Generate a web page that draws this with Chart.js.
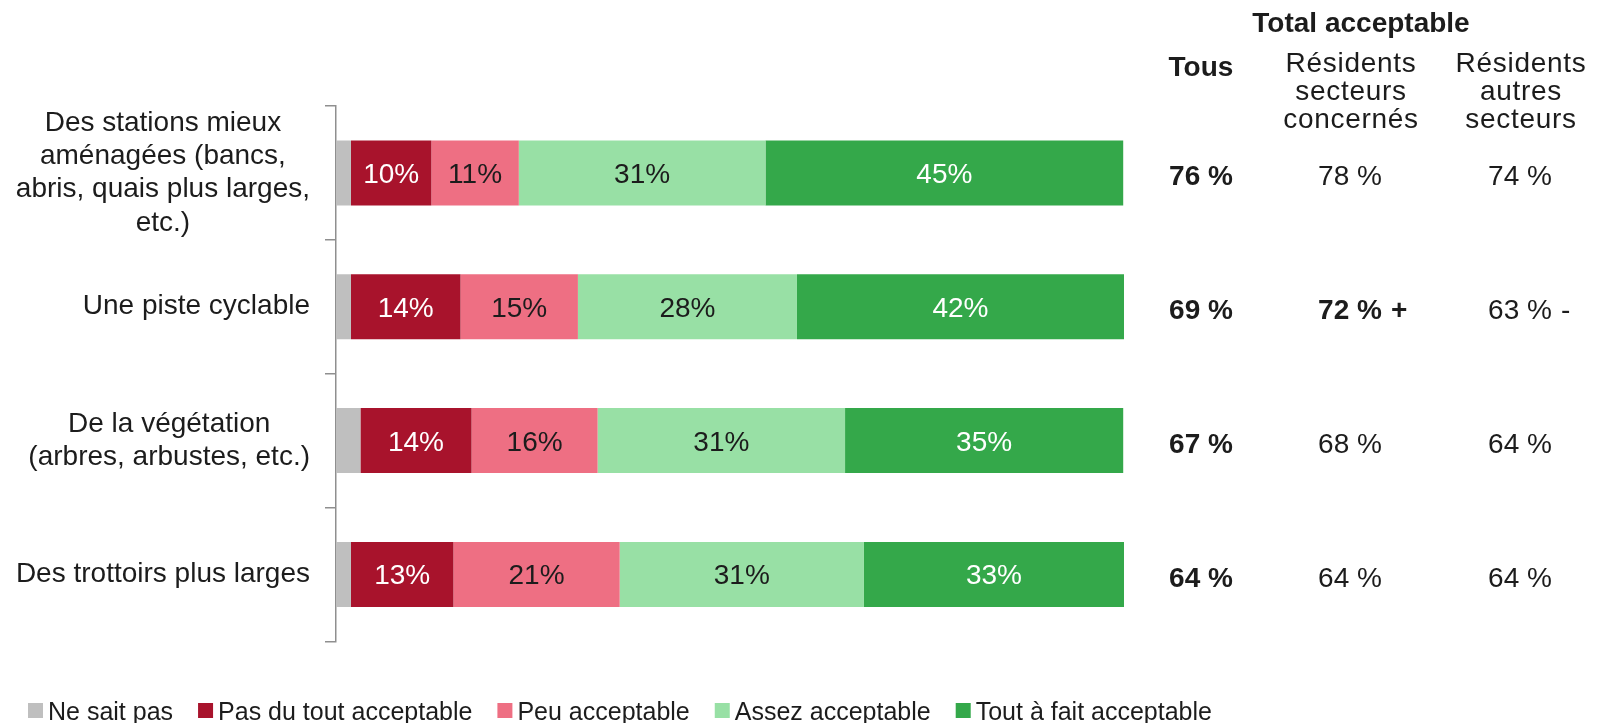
<!DOCTYPE html>
<html><head><meta charset="utf-8">
<script src="https://cdn.jsdelivr.net/npm/chart.js@4.4.1/dist/chart.umd.min.js"></script>
<style>html,body{margin:0;padding:0;background:#fff;} canvas{display:block;}</style>
</head><body>
<canvas id="c" width="1600" height="723"></canvas>
<script>
// ---- data ----
const categories = [
  ['Des stations mieux', 'aménagées (bancs,', 'abris, quais plus larges,', 'etc.)'],
  'Une piste cyclable',
  ['De la végétation', '(arbres, arbustes, etc.)'],
  'Des trottoirs plus larges'
];
const seriesNames = ['Ne sait pas', 'Pas du tout acceptable', 'Peu acceptable', 'Assez acceptable', 'Tout à fait acceptable'];
const neSaitPas = [1.9, 1.9, 3.1, 1.9];
const pasDuTout = [10.2, 13.9, 14.1, 13.0];
const peu = [11.1, 14.9, 16.0, 21.1];
const assez = [31.3, 27.8, 31.4, 31.0];
const toutAFait = [45.4, 41.5, 35.3, 33.0];
const totalTous = [76, 69, 67, 64];
const totalConcernes = [78, 72, 68, 64];
const totalAutres = [74, 63, 64, 64];
const sigConcernes = ['', '+', '', ''];
const sigAutres = ['', '-', '', ''];
const headerTitle = 'Total acceptable';
const columnHeaders = [['Tous'], ['Résidents', 'secteurs', 'concernés'], ['Résidents', 'autres', 'secteurs']];

// ---- style ----
const FONT = "'Liberation Sans', Arial, Helvetica, sans-serif";
const TEXT = '#1c1c1c';
const colors = ['#BFBFBF', '#A8132C', '#EE6F83', '#98E0A5', '#34A84A'];
const labelColors = [null, '#ffffff', TEXT, TEXT, '#ffffff'];
const seriesData = [neSaitPas, pasDuTout, peu, assez, toutAFait];

const centerYLabels = {
  id: 'centerYLabels',
  beforeDraw(chart) {
    const s = chart.scales.y;
    if (!s.getLabelItems) return;
    const items = s.getLabelItems();
    const ctx = chart.ctx;
    items.forEach(it => {
      if (it._c || !it.options || !it.options.translation) return;
      ctx.save();
      ctx.font = it.font.string;
      const lines = Array.isArray(it.label) ? it.label : [it.label];
      const w = Math.max(...lines.map(l => ctx.measureText(l).width));
      ctx.restore();
      it.options.textAlign = 'center';
      it.options.translation[0] -= w / 2;
      it._c = true;
    });
  }
};

const barLabels = {
  id: 'barLabels',
  afterDatasetsDraw(chart) {
    const ctx = chart.ctx;
    ctx.save();
    ctx.font = `28px ${FONT}`;
    ctx.textAlign = 'center';
    ctx.textBaseline = 'alphabetic';
    chart.data.datasets.forEach((ds, di) => {
      if (!ds.labelColor) return;
      const meta = chart.getDatasetMeta(di);
      meta.data.forEach((bar, i) => {
        const cx = (bar.x + bar.base) / 2;
        ctx.fillStyle = ds.labelColor;
        ctx.fillText(Math.round(ds.data[i]) + '%', cx, bar.y + 10);
      });
    });
    ctx.restore();
  }
};

const sideTable = {
  id: 'sideTable',
  afterDraw(chart) {
    const ctx = chart.ctx;
    const s = chart.scales.y;
    const colX = [1201, 1350, 1520];
    ctx.save();
    ctx.fillStyle = TEXT;
    ctx.textAlign = 'center';
    ctx.textBaseline = 'alphabetic';
    ctx.font = `bold 28px ${FONT}`;
    ctx.fillText(headerTitle, 1361, 32);
    columnHeaders.forEach((lines, ci) => {
      if (ci === 0) {
        ctx.font = `bold 28px ${FONT}`;
        ctx.fillText(lines[0], colX[0], 76);
      } else {
        ctx.font = `28px ${FONT}`;
        try { ctx.letterSpacing = '0.7px'; } catch (e) {}
        lines.forEach((l, k) => ctx.fillText(l, colX[ci] + 1, 71.7 + k * 28.3));
        try { ctx.letterSpacing = '0px'; } catch (e) {}
      }
    });
    const cols = [[totalTous, null], [totalConcernes, sigConcernes], [totalAutres, sigAutres]];
    categories.forEach((c, i) => {
      const y = s.getPixelForValue(i) + 12.5;
      cols.forEach(([vals, sig], ci) => {
        const mark = sig ? sig[i] : '';
        const bold = ci === 0 || mark === '+';
        ctx.font = `${bold ? 'bold ' : ''}28px ${FONT}`;
        const txt = vals[i] + ' %';
        ctx.textAlign = 'center';
        ctx.fillText(txt, colX[ci], y);
        if (mark) {
          const w = ctx.measureText(txt).width;
          ctx.textAlign = 'left';
          ctx.fillText(mark, colX[ci] + w / 2 + 9, y);
        }
      });
    });
    ctx.restore();
  }
};

const bottomLegend = {
  id: 'bottomLegend',
  afterDraw(chart) {
    const ctx = chart.ctx;
    ctx.save();
    ctx.font = `25px ${FONT}`;
    ctx.textAlign = 'left';
    ctx.textBaseline = 'alphabetic';
    let x = 28;
    chart.data.datasets.forEach(ds => {
      ctx.fillStyle = ds.backgroundColor;
      ctx.fillRect(x, 703, 15, 15);
      x += 20;
      ctx.fillStyle = TEXT;
      ctx.fillText(ds.label, x, 720);
      x += ctx.measureText(ds.label).width + 25;
    });
    ctx.restore();
  }
};

new Chart(document.getElementById('c'), {
  type: 'bar',
  data: {
    labels: categories,
    datasets: seriesNames.map((name, k) => ({
      label: name,
      data: seriesData[k],
      backgroundColor: colors[k],
      labelColor: labelColors[k],
      borderWidth: 0,
      categoryPercentage: 1,
      barPercentage: 0.486
    }))
  },
  options: {
    indexAxis: 'y',
    responsive: false,
    devicePixelRatio: 1,
    animation: false,
    events: [],
    layout: { padding: { top: 106, bottom: 65, left: 0, right: 476 } },
    plugins: { legend: { display: false }, tooltip: { enabled: false } },
    scales: {
      x: { display: false, stacked: true, min: 0, max: 100 },
      y: {
        stacked: true,
        position: 'left',
        afterFit(scale) { scale.width = 336; },
        grid: { drawOnChartArea: false, offset: true, tickLength: 11, color: '#8f8f8f', lineWidth: 1.5 },
        border: { color: '#8f8f8f', width: 1.5 },
        ticks: { color: TEXT, padding: 15, font: { family: FONT, size: 28, lineHeight: 1.19 } }
      }
    }
  },
  plugins: [centerYLabels, barLabels, sideTable, bottomLegend]
});
</script>
</body></html>
